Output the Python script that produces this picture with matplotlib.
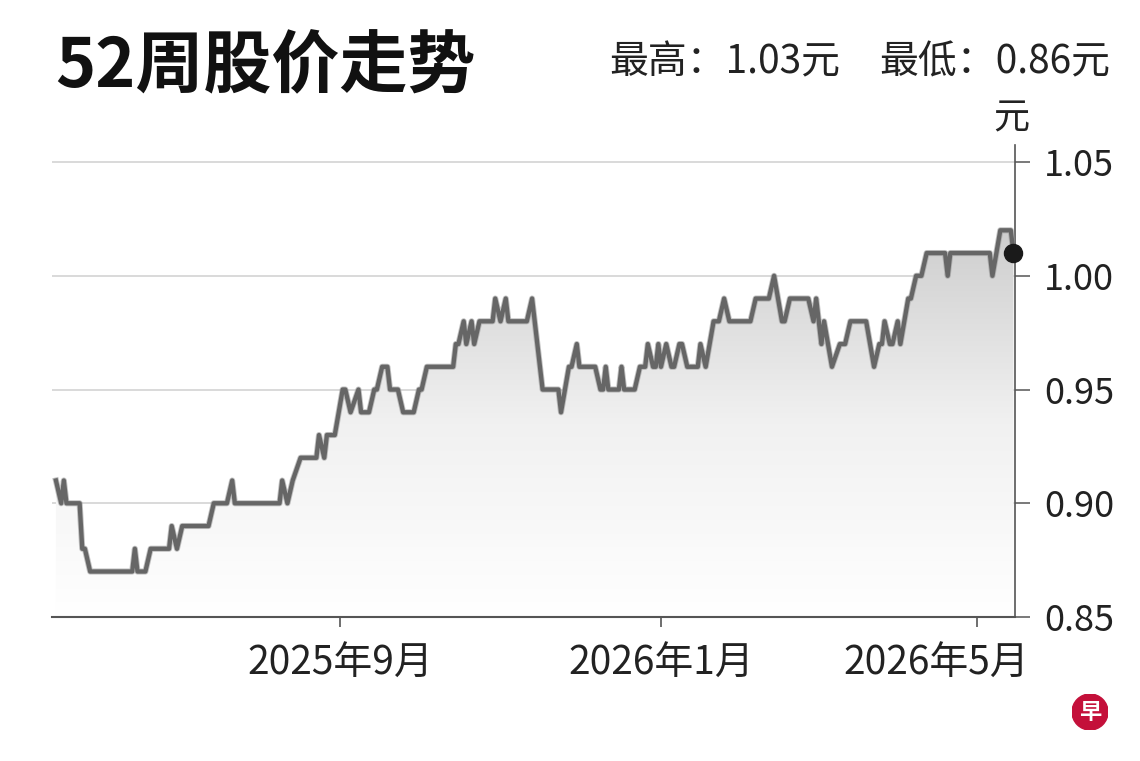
import matplotlib
matplotlib.use("Agg")
import matplotlib.pyplot as plt
import matplotlib.dates as mdates
import matplotlib.transforms as mtransforms
import numpy as np
import pandas as pd
from matplotlib.patches import Circle
from matplotlib.colors import LinearSegmentedColormap

plt.rcParams['font.family'] = ['Noto Sans CJK SC', 'DejaVu Sans']

# ---- data (vertices of the daily closing-price line) ----
dates = [
    "2025-05-16", "2025-05-18", "2025-05-19", "2025-05-20", "2025-05-25", "2025-05-26",
    "2025-05-27", "2025-05-29", "2025-06-14", "2025-06-15", "2025-06-16", "2025-06-19",
    "2025-06-21", "2025-06-28", "2025-06-29", "2025-07-01", "2025-07-03", "2025-07-13",
    "2025-07-15", "2025-07-20", "2025-07-22", "2025-07-23", "2025-08-09", "2025-08-10",
    "2025-08-12", "2025-08-14", "2025-08-17", "2025-08-23", "2025-08-24", "2025-08-26",
    "2025-08-27", "2025-08-30", "2025-09-02", "2025-09-03", "2025-09-05", "2025-09-08",
    "2025-09-09", "2025-09-12", "2025-09-14", "2025-09-15", "2025-09-17", "2025-09-19",
    "2025-09-20", "2025-09-23", "2025-09-25", "2025-09-29", "2025-10-01", "2025-10-02",
    "2025-10-04", "2025-10-14", "2025-10-15", "2025-10-16", "2025-10-18", "2025-10-19",
    "2025-10-21", "2025-10-22", "2025-10-24", "2025-10-29", "2025-10-30", "2025-11-01",
    "2025-11-03", "2025-11-04", "2025-11-11", "2025-11-13", "2025-11-14", "2025-11-17",
    "2025-11-23", "2025-11-24", "2025-11-27", "2025-11-28", "2025-11-30", "2025-12-01",
    "2025-12-07", "2025-12-09", "2025-12-10", "2025-12-11", "2025-12-12", "2025-12-16",
    "2025-12-17", "2025-12-18", "2025-12-22", "2025-12-24", "2025-12-26", "2025-12-27",
    "2025-12-29", "2025-12-30", "2025-12-31", "2026-01-01", "2026-01-03", "2026-01-05",
    "2026-01-06", "2026-01-08", "2026-01-09", "2026-01-11", "2026-01-15", "2026-01-16",
    "2026-01-18", "2026-01-21", "2026-01-23", "2026-01-25", "2026-01-27", "2026-02-04",
    "2026-02-06", "2026-02-11", "2026-02-13", "2026-02-16", "2026-02-17", "2026-02-19",
    "2026-02-26", "2026-02-28", "2026-03-01", "2026-03-03", "2026-03-04", "2026-03-07",
    "2026-03-10", "2026-03-12", "2026-03-14", "2026-03-20", "2026-03-23", "2026-03-25",
    "2026-03-26", "2026-03-27", "2026-03-29", "2026-03-30", "2026-04-01", "2026-04-02",
    "2026-04-05", "2026-04-06", "2026-04-08", "2026-04-10", "2026-04-12", "2026-04-19",
    "2026-04-20", "2026-04-21", "2026-05-06", "2026-05-07", "2026-05-10", "2026-05-14",
    "2026-05-15",
]
prices = [
    0.91, 0.90, 0.91, 0.90, 0.90, 0.88,
    0.88, 0.87, 0.87, 0.88, 0.87, 0.87,
    0.88, 0.88, 0.89, 0.88, 0.89, 0.89,
    0.90, 0.90, 0.91, 0.90, 0.90, 0.91,
    0.90, 0.91, 0.92, 0.92, 0.93, 0.92,
    0.93, 0.93, 0.95, 0.95, 0.94, 0.95,
    0.94, 0.94, 0.95, 0.95, 0.96, 0.96,
    0.95, 0.95, 0.94, 0.94, 0.95, 0.95,
    0.96, 0.96, 0.97, 0.97, 0.98, 0.97,
    0.98, 0.97, 0.98, 0.98, 0.99, 0.98,
    0.99, 0.98, 0.98, 0.99, 0.98, 0.95,
    0.95, 0.94, 0.96, 0.96, 0.97, 0.96,
    0.96, 0.95, 0.95, 0.96, 0.95, 0.95,
    0.96, 0.95, 0.95, 0.96, 0.96, 0.97,
    0.96, 0.96, 0.97, 0.96, 0.97, 0.96,
    0.96, 0.97, 0.97, 0.96, 0.96, 0.97,
    0.96, 0.98, 0.98, 0.99, 0.98, 0.98,
    0.99, 0.99, 1.00, 0.98, 0.98, 0.99,
    0.99, 0.98, 0.99, 0.97, 0.98, 0.96,
    0.97, 0.97, 0.98, 0.98, 0.96, 0.97,
    0.97, 0.98, 0.97, 0.97, 0.98, 0.97,
    0.99, 0.99, 1.00, 1.00, 1.01, 1.01,
    1.00, 1.01, 1.01, 1.00, 1.02, 1.02,
    1.01,
]
title = "52周股价走势"
high_label = "最高：1.03元"
low_label = "最低：0.86元"
unit_label = "元"
x_tick_dates = ["2025-09-01", "2026-01-01", "2026-05-01"]
x_tick_labels = ["2025年9月", "2026年1月", "2026年5月"]
y_ticks = [0.85, 0.90, 0.95, 1.00, 1.05]
y_tick_labels = ["0.85", "0.90", "0.95", "1.00", "1.05"]
x_range = ["2025-05-14 12:00", "2026-05-15 14:00"]
y_range = [0.85, 1.0575]

# ---- figure ----
W, H = 1140, 761
fig = plt.figure(figsize=(W / 100, H / 100), dpi=100)
fig.patch.set_facecolor("white")
ax = fig.add_axes([52 / W, 144 / H, 963 / W, 472 / H])

x = mdates.date2num(pd.to_datetime(dates))
y = np.array(prices)
x0, x1 = mdates.date2num(pd.to_datetime(x_range))

ax.set_xlim(x0, x1)
ax.set_ylim(*y_range)

# gradient fill under the line
poly = ax.fill_between(x, y, y_range[0], color="none", lw=0)
grad = np.linspace(0, 1, 256).reshape(-1, 1)
cmap = LinearSegmentedColormap.from_list("g", ["#ffffff", "#f1f1f1", "#cecece"])
im = ax.imshow(grad, extent=[x0, x1, y_range[0], 1.02], origin="lower",
               aspect="auto", cmap=cmap, zorder=1)
im.set_clip_path(poly.get_paths()[0], transform=ax.transData)

# grid lines
for yt in y_ticks[1:]:
    ax.axhline(yt, color="#d0d0d0", lw=1.1, zorder=0.5)

ax.plot(x, y, color="#9a9a9a", lw=4.4, zorder=2.9, alpha=0.6)
ax.plot(x, y, color="#666666", lw=3.1, zorder=3)
ax.plot(x[-1], y[-1], "o", color="#1a1a1a", ms=13, zorder=5, clip_on=False)

# spines
for s in ["top", "left"]:
    ax.spines[s].set_visible(False)
ax.spines["bottom"].set_color("#555555")
ax.spines["bottom"].set_linewidth(1.5)
ax.spines["right"].set_color("#555555")
ax.spines["right"].set_linewidth(1.2)

ax.yaxis.tick_right()
ax.set_yticks(y_ticks)
ax.set_yticklabels(y_tick_labels)
ax.tick_params(axis="y", length=11, width=1.1, color="#555555", pad=10,
               labelsize=26, labelcolor="#222222")
ax.set_xticks(mdates.date2num(pd.to_datetime(x_tick_dates)))
ax.set_xticklabels(x_tick_labels)
ax.tick_params(axis="x", length=7, width=1.2, color="#555555", pad=12,
               labelsize=28, labelcolor="#222222")
ax.set_facecolor("white")
# last month label is pulled left so it stays inside the frame
lbls = ax.get_xticklabels()
lbls[-1].set_transform(lbls[-1].get_transform() +
                       mtransforms.ScaledTranslation(-40 / 100, 0, fig.dpi_scale_trans))

# header texts
fig.text(55 / W, 1 - 87 / H, title, fontsize=49, fontweight="bold",
         color="#111111", ha="left", va="baseline")
fig.text(1110 / W, 1 - 73 / H, low_label, fontsize=28, color="#222222",
         ha="right", va="baseline")
fig.text(840 / W, 1 - 73 / H, high_label, fontsize=28, color="#222222",
         ha="right", va="baseline")
fig.text(1011 / W, 1 - 118 / H, unit_label, fontsize=26, color="#222222",
         ha="center", va="center")

# logo
lax = fig.add_axes([1072 / W, 1 - 730 / H, 36 / W, 36 / H])
lax.set_xlim(-1, 1)
lax.set_ylim(-1, 1)
lax.set_aspect("equal")
lax.axis("off")
lax.add_patch(Circle((0, 0), 1, color="#c4103a"))
lax.text(0, -0.05, "早", color="white", fontsize=16, fontweight="bold",
         ha="center", va="center")

fig.savefig("out.png", dpi=100, facecolor="white")
